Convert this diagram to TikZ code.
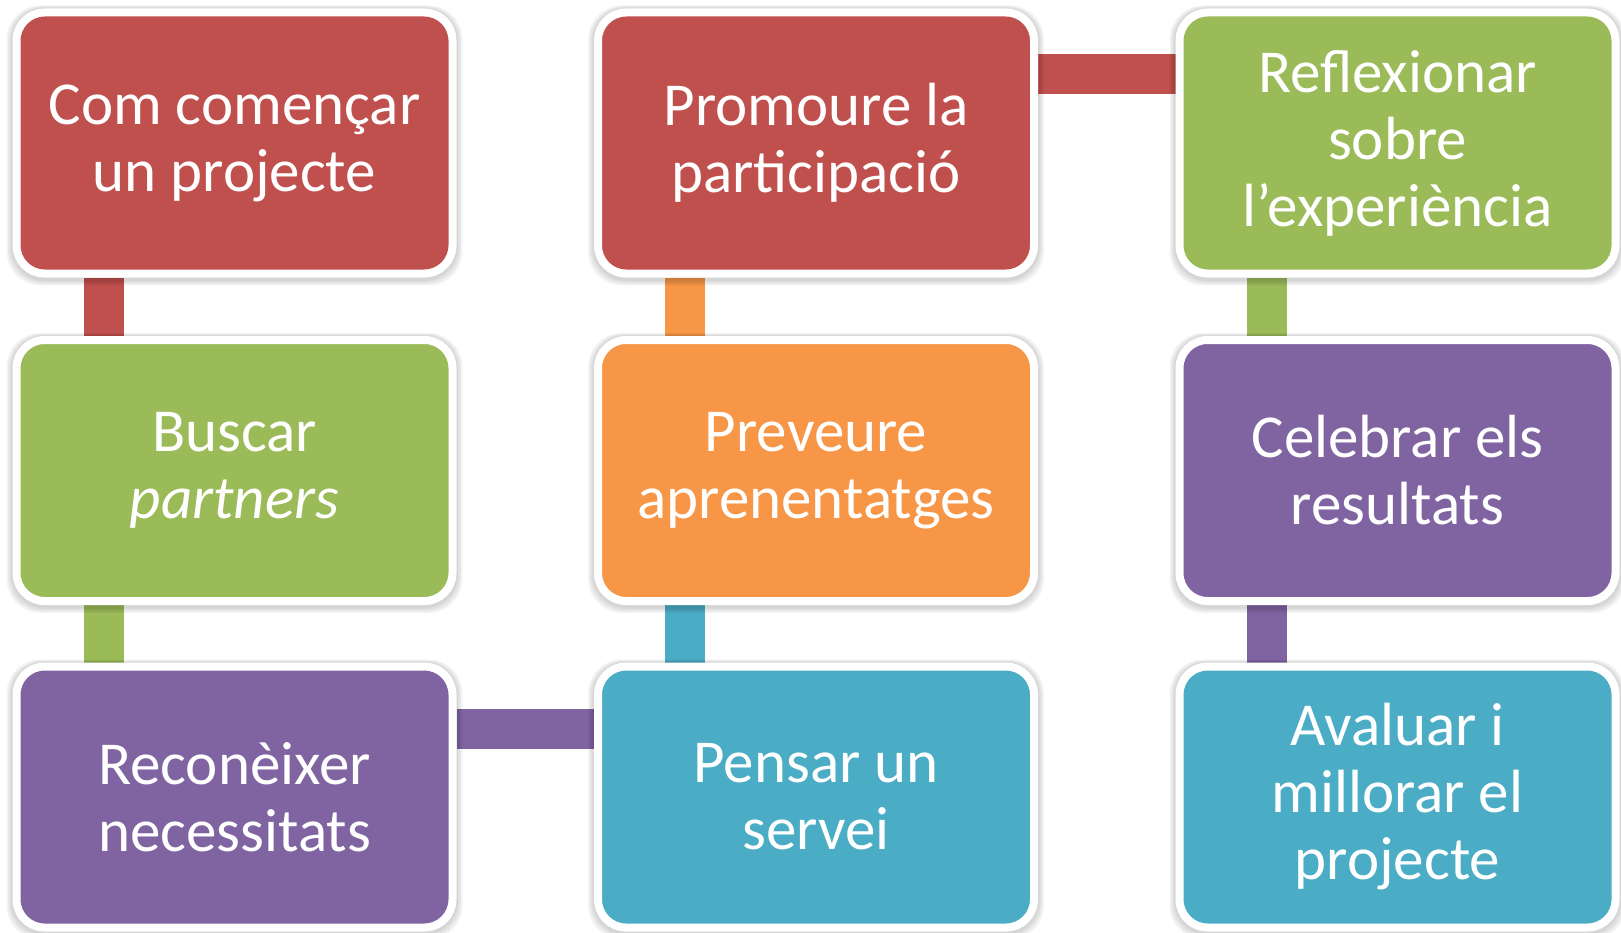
\documentclass[tikz,border=0pt]{standalone}
\usepackage{fontspec}
\setmainfont{Carlito}
\usetikzlibrary{backgrounds}
\pgfdeclarelayer{shadowlayer}
\pgfsetlayers{background,shadowlayer,main}
\definecolor{cred}{HTML}{C0504D}
\definecolor{cgreen}{HTML}{9BBB59}
\definecolor{cpurple}{HTML}{8064A2}
\definecolor{corange}{HTML}{F79646}
\definecolor{cblue}{HTML}{4BACC6}
\tikzset{
  stepbox/.style={draw=white, line width=8pt, rounded corners=28pt,
    minimum width=436pt, minimum height=261pt, inner sep=0pt,
    text=white, align=center, font=\fontsize{61}{67}\selectfont},
  softshadow/.style={fill=black, opacity=0.045, rounded corners=34pt},
  link/.style={line width=40pt}
}
\begin{document}
\begin{tikzpicture}[x=1pt,y=-1pt]
\useasboundingbox (0,0) rectangle (1621,933);
\node[stepbox, fill=cred]    (a) at (234.5,143)   {Com començar\\un projecte};
\node[stepbox, fill=cgreen]  (b) at (234.5,470.5) {Buscar\\\textit{partners}};
\node[stepbox, fill=cpurple] (c) at (234.5,797)   {Reconèixer\\necessitats};
\node[stepbox, fill=cblue]   (d) at (816,797)     {Pensar un\\servei};
\node[stepbox, fill=corange] (e) at (816,470.5)   {Preveure\\aprenentatges};
\node[stepbox, fill=cred]    (f) at (816,143)     {Promoure la\\participació};
\node[stepbox, fill=cgreen]  (g) at (1397.5,143)  {Reflexionar\\sobre\\l’experiència};
\node[stepbox, fill=cpurple] (h) at (1397.5,470.5){Celebrar els\\resultats};
\node[stepbox, fill=cblue]   (i) at (1397.5,797)  {Avaluar i\\millorar el\\projecte};
\begin{pgfonlayer}{shadowlayer}
\foreach \n in {a,b,c,d,e,f,g,h,i}{
  \foreach \s in {1.5,3,4.5,6}{
    \fill[softshadow] ([xshift=-\s pt,yshift=-\s pt-2pt]\n.south west) rectangle ([xshift=\s pt,yshift=0.5*\s pt]\n.north east);
  }
}
\end{pgfonlayer}
\begin{pgfonlayer}{background}
\draw[link, cred]    ([xshift=-131pt]a.south) -- ([xshift=-131pt]b.north);
\draw[link, cgreen]  ([xshift=-131pt]b.south) -- ([xshift=-131pt]c.north);
\draw[link, cpurple] ([yshift=68pt]c.east) -- ([yshift=68pt]d.west);
\draw[link, cblue]   ([xshift=-131pt]d.north) -- ([xshift=-131pt]e.south);
\draw[link, corange] ([xshift=-131pt]e.north) -- ([xshift=-131pt]f.south);
\draw[link, cred]    ([yshift=69pt]f.east) -- ([yshift=69pt]g.west);
\draw[link, cgreen]  ([xshift=-131pt]g.south) -- ([xshift=-131pt]h.north);
\draw[link, cpurple] ([xshift=-131pt]h.south) -- ([xshift=-131pt]i.north);
\end{pgfonlayer}
\end{tikzpicture}
\end{document}
